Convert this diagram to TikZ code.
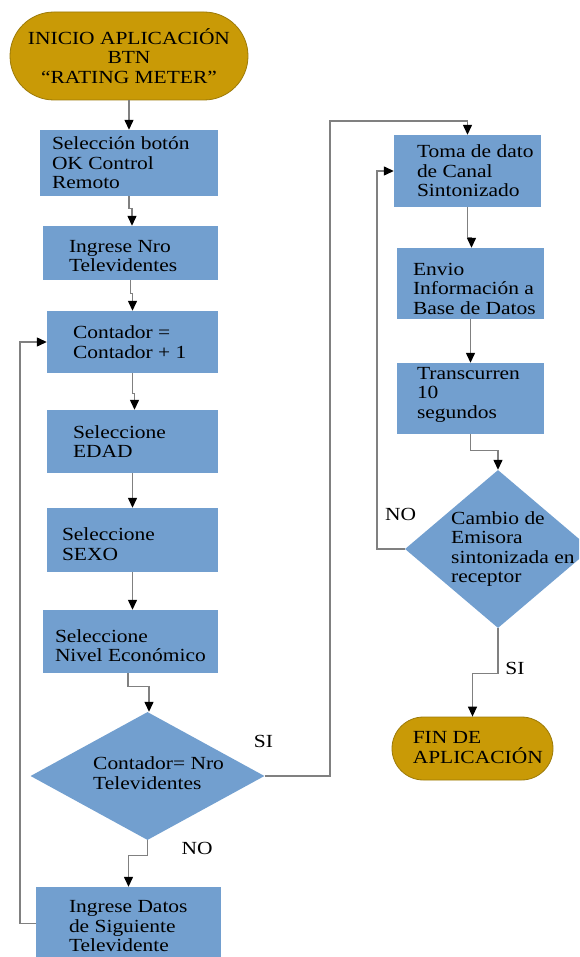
\documentclass[tikz,border=0pt]{standalone}
\usepackage{fontspec}
\setmainfont{Liberation Serif}[FakeStretch=1.16]
\usetikzlibrary{arrows.meta,shapes.geometric}
\definecolor{boxblue}{HTML}{729FCF}
\definecolor{termgold}{HTML}{C99A06}
\definecolor{termedge}{HTML}{9C7A08}
\definecolor{linegray}{HTML}{808080}

\begin{document}
\begin{tikzpicture}[x=1pt,y=-1pt,
  every node/.style={font=\fontsize{18.5}{19.5}\selectfont, text=black},
  stepbox/.style={rectangle, fill=boxblue, draw=none, inner sep=0pt},
  term/.style={rectangle, rounded corners=#1, fill=termgold, draw=termedge, line width=0.8pt, inner sep=0pt},
  decision/.style={diamond, fill=boxblue, draw=none, inner sep=0pt},
  txt/.style={anchor=west, align=left, inner sep=0pt},
  lbl/.style={inner sep=0pt},
  conn/.style={draw=linegray, line width=1.3pt, -{Triangle[width=9pt,length=10pt,color=black]}}
]
\useasboundingbox (0,0) rectangle (579,957);
\clip (0,0) rectangle (579,957);

% ---- left column ----
\node[term=44pt, minimum width=238pt, minimum height=88pt, align=center] (start) at (129,56)
  {INICIO APLICACIÓN\\BTN\\“RATING METER”};

\node[stepbox, minimum width=178pt, minimum height=66pt] (b1) at (129,163) {};
\node[txt] (b1t) at ([xshift=12pt]b1.west) {Selección botón\\OK Control\\Remoto};

\node[stepbox, minimum width=175pt, minimum height=54pt] (b2) at (130.5,253) {};
\node[txt] (b2t) at ([xshift=26pt,yshift=-3pt]b2.west) {Ingrese Nro\\Televidentes};

\node[stepbox, minimum width=171pt, minimum height=62pt] (b3) at (132.5,342) {};
\node[txt] (b3t) at ([xshift=26pt]b3.west) {Contador =\\Contador + 1};

\node[stepbox, minimum width=171pt, minimum height=63pt] (b4) at (132.5,441.5) {};
\node[txt] (b4t) at ([xshift=26pt]b4.west) {Seleccione\\EDAD};

\node[stepbox, minimum width=171pt, minimum height=64pt] (b5) at (132.5,540) {};
\node[txt] (b5t) at ([xshift=15pt,yshift=-4pt]b5.west) {Seleccione\\SEXO};

\node[stepbox, minimum width=175pt, minimum height=63pt] (b6) at (130.5,641.5) {};
\node[txt] (b6t) at ([xshift=12pt,yshift=-4pt]b6.west) {Seleccione\\Nivel Económico};

\node[decision, minimum width=234pt, minimum height=128pt] (d1) at (147.5,776) {};
\node[txt] (d1t) at (93,773) {Contador= Nro\\Televidentes};

\node[stepbox, minimum width=185pt, minimum height=73pt] (b7) at (128.5,923.5) {};
\node[txt] (b7t) at ([xshift=33pt,yshift=-3pt]b7.west) {Ingrese Datos\\de Siguiente\\Televidente};

% ---- right column ----
\node[stepbox, minimum width=147pt, minimum height=72pt] (b8) at (467.5,171) {};
\node[txt] (b8t) at ([xshift=23pt]b8.west) {Toma de dato\\de Canal\\Sintonizado};

\node[stepbox, minimum width=147pt, minimum height=71pt] (b9) at (470.5,283.5) {};
\node[txt] (b9t) at ([xshift=16pt,yshift=-5pt]b9.west) {Envio\\Información a\\Base de Datos};

\node[stepbox, minimum width=147pt, minimum height=71pt] (b10) at (470.5,398.5) {};
\node[txt] (b10t) at ([xshift=20pt,yshift=4pt]b10.west) {Transcurren\\10\\segundos};

\node[decision, minimum width=186pt, minimum height=158pt] (d2) at (498,549) {};
\node[txt] (d2t) at (451,549) {Cambio de\\Emisora\\sintonizada en\\receptor};

\node[term=31.5pt, minimum width=161pt, minimum height=63pt] (fin) at (472.5,748.5) {};
\node[txt] (fint) at ([xshift=21pt,yshift=1pt]fin.west) {FIN DE\\APLICACIÓN};

% ---- branch labels ----
\node[lbl] (siA) at (263.5,741.5) {SI};
\node[lbl] (noA) at (197,848) {NO};
\node[lbl] (noB) at (400.5,514.5) {NO};
\node[lbl] (siB) at (515,668) {SI};

% ---- bend points of the loops ----
\coordinate (loopL) at (20,342);
\coordinate (siUp) at (330,121);
\coordinate (noUp) at (377,171);

% ---- connectors ----
\draw[conn] (start.south) -- (b1.north);
\draw[conn] (b1.south) -- ++(0,12) -| ([xshift=1.5pt]b2.north);
\draw[conn] (b2.south) -- ++(0,13) -| (b3.north);
\draw[conn] (b3.south) -- ++(0,20) -| ([xshift=2pt]b4.north);
\draw[conn] (b4.south) -- (b5.north);
\draw[conn] (b5.south) -- (b5.south |- b6.north);
\draw[conn] ([xshift=-2.5pt]b6.south) -- ++(0,13) -| ([xshift=1.5pt]d1.north);
\draw[conn] (d1.south) -- ++(0,15) -| (b7.north);
\draw[conn] (b7.west) -| (loopL) -- (b3.west);
\draw[conn] (d1.east) -| (siUp) -| (b8.north);
\draw[conn] (b8.south) -- ++(0,30) -| ([xshift=1pt]b9.north);
\draw[conn] (b9.south) -- (b10.north);
\draw[conn] (b10.south) -- ++(0,16) -| (d2.north);
\draw[conn] (d2.west) -| (noUp) -- (b8.west);
\draw[conn] (d2.south) -- ++(0,45) -| (fin.north);
\end{tikzpicture}
\end{document}
